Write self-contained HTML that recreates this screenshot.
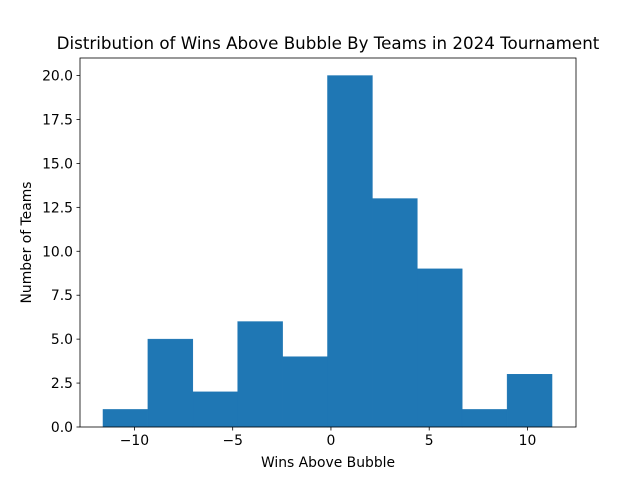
<!DOCTYPE html>
<html><head><meta charset="utf-8"><style>body{margin:0;background:#fff}svg{font-family:"DejaVu Sans","Liberation Sans",sans-serif}</style></head>
<body>
<svg id="c" width="640" height="480"></svg>
<script>
const binStart = -11.6;
const binWidth = 2.285;
const counts = [1,5,2,6,4,20,13,9,1,3];
const xTicks = [-10,-5,0,5,10];
const yTicks = [0,2.5,5,7.5,10,12.5,15,17.5,20];
const L=80,R=576,T=58,B=427;
const xmin=-12.77,xmax=12.47,ymax=21;
const X=v=>L+(v-xmin)/(xmax-xmin)*(R-L);
const Y=v=>B-v/ymax*(B-T);
const s=document.getElementById('c');const NS='http://www.w3.org/2000/svg';
function mk(t,a,txt){const e=document.createElementNS(NS,t);for(const k in a)e.setAttribute(k,a[k]);if(txt!==undefined)e.textContent=txt;s.appendChild(e);return e;}
counts.forEach((c,i)=>{const x0=X(binStart+i*binWidth),x1=X(binStart+(i+1)*binWidth);
const r=mk('rect',{x:x0,y:Y(c),width:x1-x0,height:Y(0)-Y(c),fill:'#1f77b4',stroke:'#1f77b4','stroke-width':0.5});

});
const f=mk('rect',{x:L,y:T,width:R-L,height:B-T,fill:'none',stroke:'#000','stroke-width':0.8});


xTicks.forEach(v=>{mk('line',{x1:X(v),x2:X(v),y1:B,y2:B+3.5,stroke:'#000','stroke-width':0.8});
const t=mk('text',{x:X(v),y:B+18,'font-size':13.9,'text-anchor':'middle'},v<0?'\u2212'+(-v):String(v));

});
yTicks.forEach(v=>{mk('line',{x1:L-3.5,x2:L,y1:Y(v),y2:Y(v),stroke:'#000','stroke-width':0.8});
const t=mk('text',{x:L-7,y:Y(v)+5,'font-size':13.9,'text-anchor':'end'},v.toFixed(1));

});
const xt=mk('text',{x:(L+R)/2,y:467,'font-size':13.9,'text-anchor':'middle'},'Wins Above Bubble');


const yt=mk('text',{x:0,y:0,'font-size':13.9,'text-anchor':'middle',transform:`translate(31,${(T+B)/2}) rotate(-90)`},'Number of Teams');


const ti=mk('text',{x:(L+R)/2,y:49,'font-size':16.7,'text-anchor':'middle'},'Distribution of Wins Above Bubble By Teams in 2024 Tournament');


</script>
</body></html>
